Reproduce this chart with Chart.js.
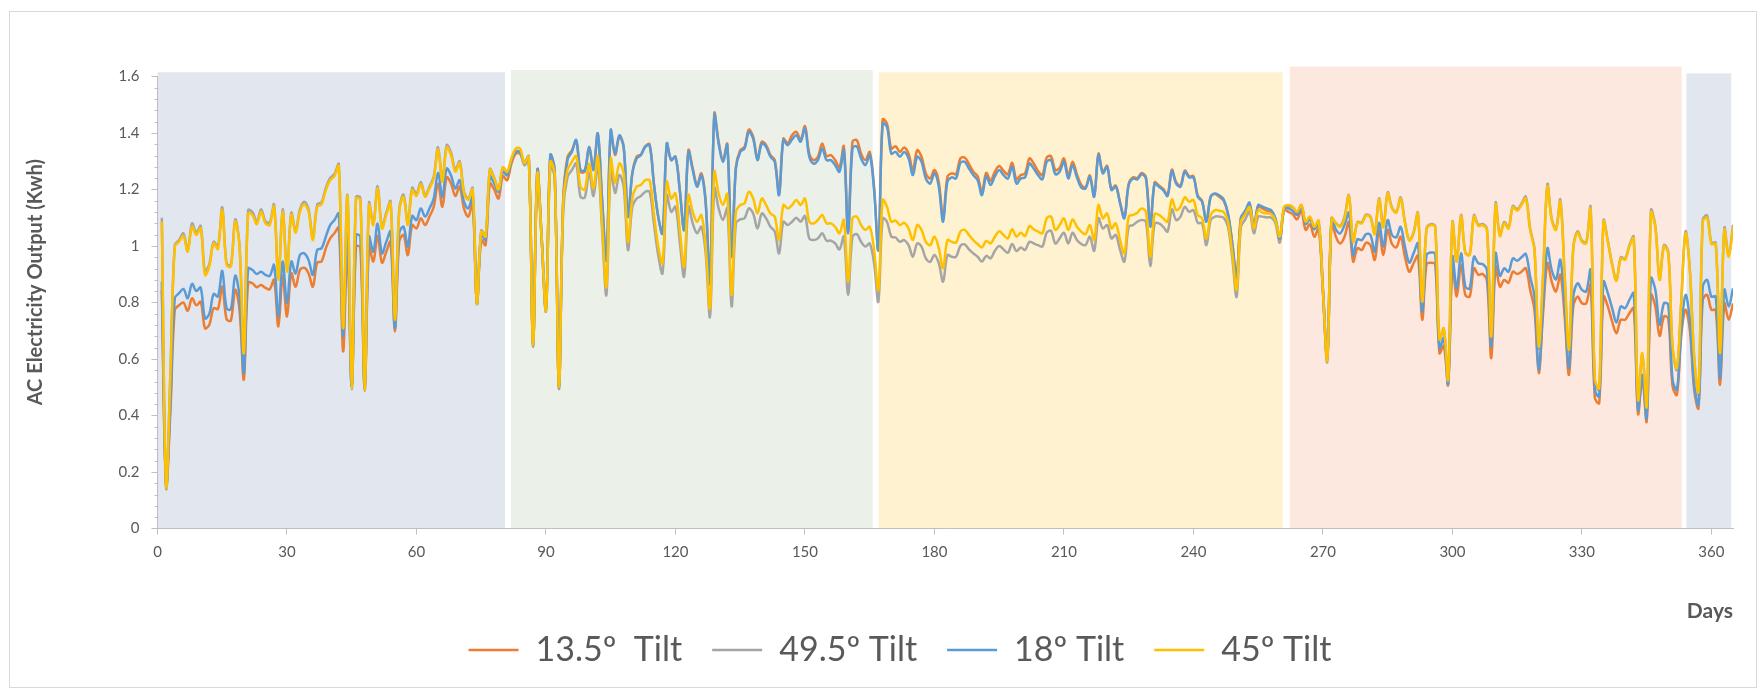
<!DOCTYPE html>
<html>
<head>
<meta charset="utf-8">
<title>AC Electricity Output by Tilt Angle</title>
<script src="https://cdn.jsdelivr.net/npm/chart.js@4/dist/chart.umd.min.js"></script>
<style>
  html, body { margin: 0; padding: 0; background: #ffffff; }
  #wrap { position: relative; width: 1764px; height: 691px; }
  #chart { position: absolute; left: 0; top: 0; }
  #frame { position: absolute; left: 9px; top: 11px; width: 1748px; height: 677px;
           border: 1px solid #d9d9d9; box-sizing: border-box; pointer-events: none; }
</style>
</head>
<body>
<div id="wrap">
  <canvas id="chart" width="1764" height="691"></canvas>
  <div id="frame"></div>
</div>
<script>
// Daily AC output (kWh) for four panel tilt angles, days 1-365
const seriesNames = ['13.5º  Tilt', '49.5º Tilt', '18º Tilt', '45º Tilt'];
const yAxisTitle = 'AC Electricity Output (Kwh)';
const xAxisTitle = 'Days';

const tilt135 = [
  0.845, 0.15, 0.42, 0.774, 0.79, 0.80, 0.771, 0.815, 0.79, 0.803,
  0.709, 0.721, 0.78, 0.777, 0.856, 0.741, 0.736, 0.845, 0.774, 0.527,
  0.87, 0.868, 0.854, 0.862, 0.852, 0.847, 0.88, 0.715, 0.894, 0.75,
  0.903, 0.856, 0.915, 0.923, 0.903, 0.856, 0.941, 0.945, 0.992, 1.027,
  1.045, 1.065, 0.627, 0.998, 0.50, 0.998, 0.995, 0.495, 0.998, 0.945,
  1.036, 0.941, 0.98, 1.015, 0.697, 1.015, 1.039, 0.968, 1.074, 1.062,
  1.098, 1.074, 1.104, 1.139, 1.221, 1.139, 1.243, 1.221, 1.177, 1.21,
  1.133, 1.104, 1.151, 0.797, 1.021, 1.003, 1.221, 1.2, 1.168, 1.247,
  1.233, 1.292, 1.327, 1.327, 1.292, 1.316, 0.651, 1.269, 1.03, 0.774,
  1.322, 1.269, 0.503, 1.168, 1.316, 1.339, 1.372, 1.263, 1.263, 1.349,
  1.275, 1.398, 1.163, 0.95, 1.404, 1.322, 1.386, 1.349, 1.104, 1.257,
  1.316, 1.324, 1.353, 1.36, 1.221, 1.104, 1.045, 1.361, 1.304, 1.316,
  1.198, 1.063, 1.339, 1.275, 1.216, 1.257, 1.157, 0.868, 1.469, 1.369,
  1.304, 1.361, 0.962, 1.28, 1.339, 1.351, 1.412, 1.386, 1.31, 1.369,
  1.357, 1.322, 1.304, 1.186, 1.38, 1.363, 1.392, 1.404, 1.377, 1.424,
  1.327, 1.304, 1.316, 1.363, 1.318, 1.322, 1.304, 1.278, 1.353, 1.051,
  1.369, 1.375, 1.327, 1.304, 1.333, 1.21, 0.99, 1.448, 1.433, 1.345,
  1.353, 1.333, 1.349, 1.327, 1.269, 1.339, 1.316, 1.257, 1.239, 1.269,
  1.227, 1.098, 1.245, 1.257, 1.254, 1.31, 1.313, 1.29, 1.263, 1.247,
  1.192, 1.259, 1.231, 1.263, 1.283, 1.266, 1.254, 1.294, 1.236, 1.251,
  1.257, 1.31, 1.292, 1.265, 1.251, 1.313, 1.318, 1.269, 1.276, 1.31,
  1.251, 1.298, 1.254, 1.216, 1.208, 1.25, 1.178, 1.327, 1.262, 1.284,
  1.202, 1.214, 1.155, 1.102, 1.22, 1.243, 1.24, 1.258, 1.243, 1.072,
  1.225, 1.214, 1.202, 1.181, 1.27, 1.225, 1.214, 1.267, 1.247, 1.247,
  1.178, 1.16, 1.088, 1.176, 1.184, 1.174, 1.16, 1.113, 1.009, 0.886,
  1.101, 1.118, 1.145, 1.066, 1.139, 1.132, 1.125, 1.121, 1.094, 1.024,
  1.127, 1.121, 1.113, 1.094, 1.125, 1.057, 1.077, 1.033, 1.062, 0.835,
  0.603, 1.086, 1.033, 1.009, 1.033, 1.084, 0.945, 0.992, 0.986, 1.012,
  1.003, 0.951, 1.054, 0.968, 1.057, 1.007, 0.995, 1.033, 0.962, 0.909,
  0.939, 0.965, 0.739, 0.936, 0.941, 0.936, 0.621, 0.647, 0.509, 0.927,
  0.821, 0.933, 0.826, 0.821, 0.921, 0.898, 0.901, 0.877, 0.603, 0.927,
  0.856, 0.88, 0.87, 0.909, 0.901, 0.909, 0.921, 0.845, 0.774, 0.55,
  0.762, 0.939, 0.874, 0.839, 0.898, 0.75, 0.544, 0.786, 0.821, 0.797,
  0.797, 0.862, 0.462, 0.444, 0.821, 0.786, 0.733, 0.691, 0.739, 0.739,
  0.762, 0.78, 0.406, 0.527, 0.379, 0.827, 0.786, 0.682, 0.75, 0.744,
  0.503, 0.473, 0.68, 0.774, 0.703, 0.491, 0.426, 0.809, 0.827, 0.774,
  0.774, 0.509, 0.797, 0.739, 0.797
];

const tilt495 = [
  1.10, 0.145, 0.56, 1.003, 1.021, 1.045, 0.986, 1.08, 1.048, 1.071,
  0.909, 0.936, 1.015, 0.998, 1.137, 0.939, 0.933, 1.094, 1.003, 0.626,
  1.127, 1.12, 1.086, 1.13, 1.088, 1.083, 1.147, 0.886, 1.13, 0.915,
  1.118, 1.054, 1.13, 1.157, 1.13, 1.027, 1.147, 1.155, 1.206, 1.241,
  1.255, 1.29, 0.715, 1.18, 0.493, 1.174, 1.17, 0.488, 1.153, 1.08,
  1.212, 1.068, 1.118, 1.158, 0.742, 1.128, 1.182, 1.08, 1.206, 1.185,
  1.227, 1.18, 1.21, 1.246, 1.35, 1.233, 1.357, 1.33, 1.27, 1.3,
  1.194, 1.168, 1.205, 0.795, 1.055, 1.036, 1.272, 1.242, 1.2, 1.278,
  1.26, 1.305, 1.335, 1.333, 1.286, 1.31, 0.644, 1.251, 1.02, 0.77,
  1.28, 1.245, 0.494, 1.127, 1.245, 1.269, 1.292, 1.174, 1.172, 1.259,
  1.177, 1.286, 1.057, 0.827, 1.269, 1.188, 1.251, 1.21, 0.986, 1.139,
  1.168, 1.177, 1.192, 1.192, 1.08, 0.968, 0.903, 1.18, 1.121, 1.139,
  1.015, 0.892, 1.139, 1.08, 1.045, 1.068, 0.974, 0.75, 1.204, 1.133,
  1.092, 1.133, 0.786, 1.08, 1.094, 1.098, 1.133, 1.115, 1.062, 1.115,
  1.098, 1.068, 1.051, 0.974, 1.086, 1.074, 1.086, 1.1, 1.086, 1.106,
  1.027, 1.021, 1.027, 1.045, 1.019, 1.019, 1.009, 0.988, 1.033, 0.827,
  1.033, 1.042, 1.015, 0.998, 1.009, 0.94, 0.803, 1.098, 1.086, 1.033,
  1.03, 1.015, 1.021, 1.003, 0.962, 1.009, 0.998, 0.956, 0.944, 0.968,
  0.939, 0.874, 0.968, 0.962, 0.962, 1.0, 1.006, 0.988, 0.974, 0.962,
  0.945, 0.965, 0.956, 0.983, 1.0, 0.988, 0.976, 1.007, 0.982, 0.995,
  0.986, 1.015, 1.009, 1.003, 0.998, 1.047, 1.054, 1.009, 1.027, 1.047,
  1.009, 1.047, 1.021, 1.007, 1.003, 1.033, 0.983, 1.098, 1.062, 1.074,
  1.027, 1.039, 0.986, 0.945, 1.068, 1.074, 1.086, 1.092, 1.086, 0.929,
  1.08, 1.08, 1.068, 1.051, 1.13, 1.092, 1.104, 1.139, 1.121, 1.127,
  1.082, 1.08, 1.003, 1.092, 1.104, 1.104, 1.1, 1.068, 0.956, 0.821,
  1.068, 1.094, 1.121, 1.045, 1.104, 1.104, 1.101, 1.101, 1.08, 1.012,
  1.133, 1.139, 1.137, 1.118, 1.145, 1.082, 1.1, 1.066, 1.086, 0.84,
  0.591, 1.098, 1.082, 1.071, 1.104, 1.18, 1.018, 1.085, 1.083, 1.111,
  1.104, 1.045, 1.169, 1.068, 1.19, 1.136, 1.121, 1.172, 1.085, 1.021,
  1.048, 1.118, 0.797, 1.062, 1.077, 1.071, 0.668, 0.706, 0.515, 1.085,
  0.945, 1.11, 0.976, 0.97, 1.109, 1.075, 1.078, 1.06, 0.676, 1.152,
  1.04, 1.085, 1.066, 1.142, 1.13, 1.15, 1.175, 1.062, 0.99, 0.638,
  0.895, 1.218, 1.097, 1.062, 1.164, 0.895, 0.627, 0.995, 1.052, 1.019,
  1.013, 1.138, 0.52, 0.49, 1.09, 1.019, 0.936, 0.88, 0.96, 0.955,
  1.003, 1.033, 0.448, 0.616, 0.425, 1.127, 1.072, 0.883, 1.003, 0.98,
  0.64, 0.562, 0.8, 1.052, 0.918, 0.605, 0.478, 1.093, 1.108, 1.012,
  1.012, 0.616, 1.064, 0.966, 1.075
];

const tilt18 = [
  0.874, 0.155, 0.45, 0.815, 0.833, 0.848, 0.815, 0.866, 0.841, 0.853,
  0.744, 0.76, 0.83, 0.821, 0.912, 0.78, 0.776, 0.895, 0.821, 0.55,
  0.921, 0.915, 0.901, 0.909, 0.898, 0.894, 0.933, 0.75, 0.945, 0.797,
  0.945, 0.903, 0.968, 0.974, 0.95, 0.898, 0.986, 0.992, 1.033, 1.074,
  1.092, 1.115, 0.68, 1.039, 0.503, 1.039, 1.033, 0.495, 1.033, 0.98,
  1.08, 0.974, 1.015, 1.051, 0.709, 1.045, 1.068, 0.998, 1.106, 1.092,
  1.133, 1.104, 1.133, 1.168, 1.259, 1.174, 1.274, 1.25, 1.204, 1.233,
  1.157, 1.133, 1.174, 0.797, 1.041, 1.021, 1.247, 1.221, 1.192, 1.263,
  1.25, 1.304, 1.333, 1.333, 1.296, 1.318, 0.651, 1.269, 1.03, 0.78,
  1.322, 1.269, 0.503, 1.163, 1.306, 1.333, 1.375, 1.269, 1.269, 1.351,
  1.269, 1.398, 1.163, 0.95, 1.41, 1.327, 1.392, 1.351, 1.104, 1.257,
  1.31, 1.322, 1.351, 1.357, 1.221, 1.104, 1.045, 1.363, 1.304, 1.316,
  1.198, 1.057, 1.333, 1.269, 1.21, 1.251, 1.151, 0.868, 1.463, 1.363,
  1.298, 1.357, 0.962, 1.274, 1.333, 1.345, 1.404, 1.38, 1.304, 1.363,
  1.351, 1.316, 1.298, 1.18, 1.375, 1.357, 1.377, 1.392, 1.369, 1.416,
  1.316, 1.292, 1.304, 1.345, 1.304, 1.304, 1.286, 1.263, 1.339, 1.045,
  1.345, 1.353, 1.31, 1.286, 1.322, 1.2, 0.986, 1.433, 1.422, 1.327,
  1.333, 1.316, 1.333, 1.31, 1.251, 1.316, 1.298, 1.239, 1.221, 1.257,
  1.21, 1.086, 1.227, 1.243, 1.239, 1.294, 1.298, 1.274, 1.251, 1.233,
  1.18, 1.247, 1.216, 1.247, 1.269, 1.251, 1.239, 1.28, 1.221, 1.239,
  1.243, 1.292, 1.274, 1.251, 1.236, 1.298, 1.304, 1.254, 1.263, 1.298,
  1.239, 1.286, 1.243, 1.207, 1.204, 1.245, 1.174, 1.322, 1.257, 1.28,
  1.198, 1.21, 1.151, 1.098, 1.216, 1.239, 1.236, 1.254, 1.239, 1.068,
  1.221, 1.21, 1.198, 1.177, 1.266, 1.221, 1.21, 1.263, 1.243, 1.243,
  1.174, 1.157, 1.086, 1.174, 1.186, 1.179, 1.165, 1.115, 1.009, 0.892,
  1.098, 1.125, 1.153, 1.068, 1.145, 1.139, 1.133, 1.127, 1.098, 1.027,
  1.133, 1.133, 1.125, 1.11, 1.139, 1.078, 1.094, 1.059, 1.082, 0.85,
  0.603, 1.098, 1.059, 1.045, 1.074, 1.118, 0.968, 1.024, 1.021, 1.042,
  1.039, 0.98, 1.082, 0.998, 1.092, 1.039, 1.031, 1.068, 0.998, 0.941,
  0.974, 1.009, 0.768, 0.968, 0.977, 0.972, 0.638, 0.674, 0.515, 0.962,
  0.85, 0.974, 0.856, 0.85, 0.962, 0.939, 0.936, 0.915, 0.644, 0.974,
  0.894, 0.921, 0.909, 0.956, 0.948, 0.96, 0.972, 0.892, 0.821, 0.562,
  0.786, 0.992, 0.915, 0.882, 0.951, 0.786, 0.568, 0.821, 0.868, 0.845,
  0.839, 0.915, 0.491, 0.468, 0.874, 0.833, 0.78, 0.729, 0.786, 0.78,
  0.809, 0.833, 0.42, 0.544, 0.391, 0.886, 0.845, 0.721, 0.797, 0.792,
  0.526, 0.491, 0.697, 0.827, 0.739, 0.509, 0.438, 0.856, 0.88, 0.821,
  0.821, 0.532, 0.845, 0.786, 0.85
];

const tilt45 = [
  1.086, 0.15, 0.55, 0.998, 1.015, 1.035, 0.98, 1.068, 1.039, 1.062,
  0.897, 0.927, 1.009, 0.989, 1.127, 0.933, 0.927, 1.086, 0.998, 0.62,
  1.115, 1.11, 1.077, 1.121, 1.08, 1.074, 1.139, 0.88, 1.121, 0.909,
  1.11, 1.047, 1.121, 1.148, 1.121, 1.021, 1.139, 1.147, 1.198, 1.233,
  1.247, 1.283, 0.709, 1.177, 0.497, 1.168, 1.163, 0.491, 1.145, 1.074,
  1.204, 1.062, 1.11, 1.151, 0.739, 1.121, 1.174, 1.074, 1.198, 1.177,
  1.219, 1.174, 1.204, 1.239, 1.342, 1.227, 1.349, 1.322, 1.263, 1.294,
  1.188, 1.163, 1.2, 0.797, 1.051, 1.033, 1.269, 1.239, 1.2, 1.278,
  1.263, 1.31, 1.345, 1.345, 1.294, 1.316, 0.651, 1.257, 1.027, 0.774,
  1.298, 1.257, 0.503, 1.151, 1.269, 1.298, 1.318, 1.21, 1.2, 1.292,
  1.204, 1.318, 1.08, 0.856, 1.31, 1.224, 1.292, 1.257, 1.015, 1.168,
  1.21, 1.216, 1.233, 1.233, 1.115, 0.998, 0.939, 1.227, 1.168, 1.186,
  1.057, 0.927, 1.18, 1.121, 1.086, 1.11, 0.998, 0.78, 1.263, 1.186,
  1.145, 1.184, 0.827, 1.121, 1.145, 1.151, 1.192, 1.168, 1.115, 1.168,
  1.145, 1.115, 1.104, 1.021, 1.145, 1.133, 1.145, 1.163, 1.145, 1.168,
  1.086, 1.08, 1.092, 1.11, 1.08, 1.08, 1.068, 1.045, 1.092, 0.874,
  1.098, 1.104, 1.074, 1.057, 1.068, 0.99, 0.845, 1.163, 1.139, 1.086,
  1.09, 1.074, 1.082, 1.062, 1.021, 1.074, 1.057, 1.015, 1.003, 1.033,
  0.992, 0.921, 1.021, 1.015, 1.012, 1.051, 1.057, 1.039, 1.021, 1.007,
  0.995, 1.018, 1.009, 1.033, 1.052, 1.039, 1.027, 1.059, 1.033, 1.047,
  1.035, 1.071, 1.059, 1.051, 1.045, 1.098, 1.104, 1.057, 1.074, 1.098,
  1.057, 1.094, 1.068, 1.051, 1.042, 1.074, 1.021, 1.145, 1.098, 1.115,
  1.062, 1.08, 1.021, 0.974, 1.104, 1.11, 1.118, 1.133, 1.121, 0.962,
  1.113, 1.11, 1.098, 1.086, 1.165, 1.127, 1.139, 1.172, 1.157, 1.163,
  1.11, 1.098, 1.027, 1.11, 1.127, 1.125, 1.12, 1.086, 0.974, 0.845,
  1.086, 1.113, 1.137, 1.062, 1.127, 1.118, 1.115, 1.113, 1.09, 1.033,
  1.139, 1.145, 1.139, 1.121, 1.145, 1.086, 1.104, 1.068, 1.09, 0.845,
  0.597, 1.098, 1.08, 1.068, 1.098, 1.177, 1.015, 1.082, 1.08, 1.108,
  1.101, 1.042, 1.165, 1.066, 1.186, 1.133, 1.118, 1.168, 1.082, 1.019,
  1.045, 1.115, 0.803, 1.059, 1.074, 1.068, 0.67, 0.709, 0.527, 1.082,
  0.945, 1.106, 0.974, 0.968, 1.104, 1.071, 1.074, 1.057, 0.68, 1.145,
  1.035, 1.08, 1.062, 1.137, 1.125, 1.145, 1.168, 1.057, 0.986, 0.644,
  0.892, 1.21, 1.092, 1.057, 1.157, 0.892, 0.633, 0.992, 1.047, 1.015,
  1.009, 1.13, 0.529, 0.497, 1.086, 1.015, 0.933, 0.877, 0.956, 0.951,
  0.998, 1.027, 0.456, 0.621, 0.432, 1.118, 1.066, 0.88, 0.998, 0.974,
  0.644, 0.568, 0.797, 1.045, 0.915, 0.609, 0.485, 1.086, 1.1, 1.007,
  1.007, 0.621, 1.057, 0.962, 1.068
];

// Season bands behind the lines: first day, last day, top value
const seasonStart = [0, 81.9, 167.1, 262.3, 354.2];
const seasonEnd   = [80.5, 165.7, 260.7, 353.1, 364.6];
const seasonTop   = [1.615, 1.623, 1.615, 1.635, 1.611];

// Tick values for the axes
const xTicks = [0, 30, 60, 90, 120, 150, 180, 210, 240, 270, 300, 330, 360];
const yTicks = [0, 0.2, 0.4, 0.6, 0.8, 1, 1.2, 1.4, 1.6];

// ---- styling ----
const seasonFill = ['#e2e7ef', '#ebf0e8', '#fff2d0', '#fce8df', '#e2e7ef'];
const lineColors = ['#ed7d31', '#a5a5a5', '#5b9bd5', '#ffc000'];
const drawOrder  = [4, 3, 2, 1];
const textGray = '#595959';
const axisGray = '#bfbfbf';
const FONT = "Lato, 'Open Sans', 'Liberation Sans', sans-serif";

Chart.defaults.font.family = FONT;
Chart.defaults.color = textGray;

const days = tilt135.map((_, i) => i + 1);
const allSeries = [tilt135, tilt495, tilt18, tilt45];

const datasets = allSeries.map((vals, k) => ({
  label: seriesNames[k],
  data: days.map((d, i) => ({ x: d, y: vals[i] })),
  borderColor: lineColors[k],
  backgroundColor: lineColors[k],
  borderWidth: 2.5,
  pointRadius: 0,
  pointHoverRadius: 0,
  tension: 0.35,
  fill: false,
  order: drawOrder[k]
}));

// Coloured season rectangles, drawn first so axes and lines sit on top
const seasonBands = {
  id: 'seasonBands',
  beforeDraw(chart) {
    const { ctx, scales: { x, y } } = chart;
    ctx.save();
    seasonStart.forEach((s, i) => {
      const x0 = x.getPixelForValue(s);
      const x1 = x.getPixelForValue(seasonEnd[i]);
      const y0 = y.getPixelForValue(seasonTop[i]);
      const y1 = y.getPixelForValue(0);
      ctx.fillStyle = seasonFill[i];
      ctx.fillRect(x0, y0, x1 - x0, y1 - y0);
    });
    ctx.restore();
  }
};

// Minor tick marks on the value axis and the rotated value-axis title
const axisExtras = {
  id: 'axisExtras',
  afterDraw(chart) {
    const { ctx, chartArea, scales: { y } } = chart;
    ctx.save();
    ctx.strokeStyle = axisGray;
    ctx.lineWidth = 1;
    const ax = Math.round(y.right) + 0.5;
    for (let i = 0; i <= 40; i++) {
      if (i % 5 === 0) continue;
      const py = Math.round(y.getPixelForValue(i * 0.04)) + 0.5;
      ctx.beginPath();
      ctx.moveTo(ax - 4, py);
      ctx.lineTo(ax, py);
      ctx.stroke();
    }
    // value-axis title, centred a little above the middle of the plot
    const cy = chartArea.top + (chartArea.bottom - chartArea.top) * 0.455;
    ctx.translate(36, cy);
    ctx.rotate(-Math.PI / 2);
    ctx.fillStyle = textGray;
    ctx.font = 'bold 20px ' + FONT;
    ctx.textAlign = 'center';
    ctx.textBaseline = 'middle';
    ctx.fillText(yAxisTitle, 0, 0);
    ctx.restore();
  }
};

new Chart(document.getElementById('chart'), {
  type: 'line',
  data: { datasets },
  plugins: [seasonBands, axisExtras],
  options: {
    responsive: false,
    animation: false,
    events: [],
    layout: { padding: { left: 67, right: 31, top: 76.5, bottom: 14 } },
    scales: {
      x: {
        type: 'linear',
        min: 0,
        max: 365,
        afterBuildTicks: (s) => { s.ticks = xTicks.map(v => ({ value: v })); },
        afterFit: (s) => { s.height = 74.5; },
        ticks: { font: { size: 15 }, color: textGray, padding: 9, maxRotation: 0,
                 callback: (v) => String(v) },
        grid: { drawOnChartArea: false, drawTicks: true, tickLength: 6, color: axisGray },
        border: { color: axisGray, width: 1 },
        title: { display: true, text: xAxisTitle, align: 'end', color: textGray,
                 font: { size: 21, weight: 'bold' }, padding: { top: 0, bottom: -21 } }
      },
      y: {
        min: 0,
        max: 1.6,
        afterBuildTicks: (s) => { s.ticks = yTicks.map(v => ({ value: v })); },
        afterFit: (s) => { s.width = 90.5; },
        ticks: { font: { size: 15 }, color: textGray, padding: 12,
                 callback: (v) => String(Number(v.toFixed(1))) },
        grid: { drawOnChartArea: false, drawTicks: true, tickLength: 6, color: axisGray },
        border: { color: axisGray, width: 1 },
        title: { display: false }
      }
    },
    plugins: {
      legend: {
        position: 'bottom',
        labels: {
          usePointStyle: true,
          pointStyle: 'line',
          pointStyleWidth: 50,
          font: { size: 34 },
          color: textGray,
          padding: 30,
          sort: (a, b) => a.datasetIndex - b.datasetIndex
        }
      },
      tooltip: { enabled: false }
    }
  }
});
</script>
</body>
</html>
